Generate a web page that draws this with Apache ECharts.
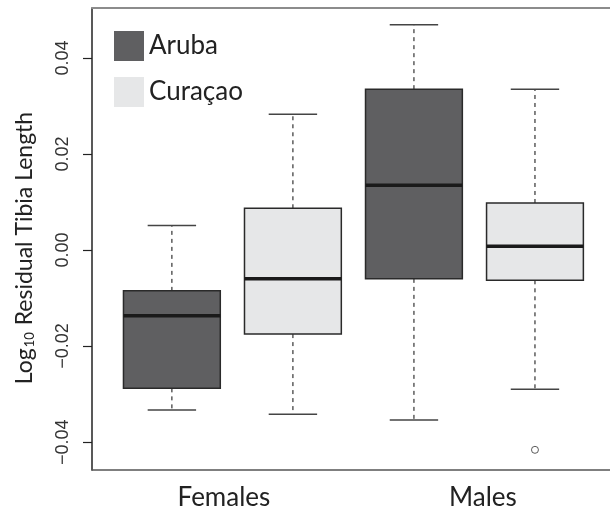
<!DOCTYPE html>
<html>
<head>
<meta charset="utf-8">
<script src="https://cdn.jsdelivr.net/npm/echarts@6/dist/echarts.min.js"></script>
<style>
html,body{margin:0;padding:0;background:#fff;}
#chart{width:610px;height:512px;}
</style>
</head>
<body>
<div id="chart"></div>
<script>
// ---- data ----
const groupNames = ['Females', 'Males'];
const groupLabelPos = [1.43, 3.57];          // x positions of the group labels
const islands = ['Aruba', 'Curaçao'];
const arubaPos = [1, 3];
const curacaoPos = [2, 4];
// [min, Q1, median, Q3, max]
const arubaStats = [
  [-0.0333, -0.0288, -0.0137, -0.0085, 0.0051],
  [-0.0354, -0.0060, 0.0135, 0.0335, 0.0469]
];
const curacaoStats = [
  [-0.0342, -0.0175, -0.0060, 0.0087, 0.0283],
  [-0.0290, -0.0063, 0.0008, 0.0098, 0.0335]
];
const outliers = [[4, -0.0416]];
const yTicks = [-0.04, -0.02, 0, 0.02, 0.04];

const BOX_WEX = 0.8;

function buildData(pos, stats) {
  return pos.map((p, i) => [p].concat(stats[i]));
}

function renderBox(params, api) {
  const x = api.value(0);
  const lo = api.coord([x, api.value(1)]);
  const q1 = api.coord([x, api.value(2)]);
  const med = api.coord([x, api.value(3)]);
  const q3 = api.coord([x, api.value(4)]);
  const hi = api.coord([x, api.value(5)]);
  const bw = api.size([BOX_WEX, 0])[0];
  const cw = bw * 0.5;
  const cx = lo[0];
  const whiskerStyle = { stroke: '#333', lineWidth: 1.2, lineDash: [4, 4] };
  const capStyle = { stroke: '#444', lineWidth: 1.5 };
  return {
    type: 'group',
    children: [
      { type: 'line', shape: { x1: cx, y1: q3[1], x2: cx, y2: hi[1] }, style: whiskerStyle },
      { type: 'line', shape: { x1: cx, y1: q1[1], x2: cx, y2: lo[1] }, style: whiskerStyle },
      { type: 'line', shape: { x1: cx - cw / 2, y1: hi[1], x2: cx + cw / 2, y2: hi[1] }, style: capStyle },
      { type: 'line', shape: { x1: cx - cw / 2, y1: lo[1], x2: cx + cw / 2, y2: lo[1] }, style: capStyle },
      { type: 'rect', shape: { x: cx - bw / 2, y: q3[1], width: bw, height: q1[1] - q3[1] },
        style: { fill: api.visual('color'), stroke: '#2a2a2a', lineWidth: 1.5 } },
      { type: 'line', shape: { x1: cx - bw / 2, y1: med[1], x2: cx + bw / 2, y2: med[1] },
        style: { stroke: '#1a1a1a', lineWidth: 3.5 } }
    ]
  };
}

const chart = echarts.init(document.getElementById('chart'), null, { renderer: 'canvas' });

const option = {
  backgroundColor: '#fff',
  animation: false,
  grid: { left: 92, right: 0, top: 8, bottom: 42, outerBoundsMode: 'none' },
  legend: {
    orient: 'vertical',
    left: 109,
    top: 26,
    itemWidth: 30,
    itemHeight: 30,
    itemGap: 16,
    icon: 'rect',
    itemStyle: { borderWidth: 0 },
    textStyle: { fontFamily: 'Lato', fontSize: 26, color: '#222' },
    data: [
      { name: islands[0], textStyle: { padding: [0, 0, 10, 0] } },
      { name: islands[1] }
    ]
  },
  xAxis: [
    {
      type: 'value',
      position: 'bottom',
      min: 0.34,
      max: 4.62,
      splitLine: { show: false },
      axisTick: { show: false },
      axisLine: { show: true, onZero: false, lineStyle: { color: '#555', width: 1.5 } },
      axisLabel: {
        customValues: groupLabelPos,
        margin: 15,
        fontFamily: 'Lato',
        fontSize: 26,
        color: '#222',
        formatter: function (v) {
          let best = 0;
          groupLabelPos.forEach((p, i) => { if (Math.abs(p - v) < Math.abs(groupLabelPos[best] - v)) best = i; });
          return groupNames[best];
        }
      }
    },
    {
      type: 'value',
      position: 'top',
      min: 0.34,
      max: 4.62,
      splitLine: { show: false },
      axisTick: { show: false },
      axisLabel: { show: false },
      axisLine: { show: true, onZero: false, lineStyle: { color: '#8c8c8c', width: 2 } }
    }
  ],
  yAxis: {
    type: 'value',
    min: -0.0458,
    max: 0.0504,
    splitLine: { show: false },
    axisLine: { show: true, onZero: false, lineStyle: { color: '#222', width: 1.5 } },
    axisTick: { show: true, customValues: yTicks, length: 9, lineStyle: { color: '#222', width: 1.2 } },
    axisLabel: {
      customValues: yTicks,
      rotate: 90,
      margin: 20,
      fontFamily: 'Liberation Sans',
      fontSize: 18,
      color: '#333',
      formatter: function (v) { return v.toFixed(2).replace('-', '\u2212'); }
    },
    name: '{n|Log}{s|10}{n| Residual Tibia Length}',
    nameLocation: 'middle',
    nameGap: 56,
    nameTextStyle: {
      padding: [0, 18, 0, 0],
      rich: {
        n: { fontFamily: 'Lato', fontSize: 23, color: '#222' },
        s: { fontFamily: 'Lato', fontSize: 13, color: '#222', verticalAlign: 'bottom', padding: [0, 1, 0, 1] }
      }
    }
  },
  series: [
    {
      name: islands[0],
      type: 'custom',
      renderItem: renderBox,
      itemStyle: { color: '#5f5f61' },
      encode: { x: 0, y: [1, 2, 3, 4, 5] },
      data: buildData(arubaPos, arubaStats),
      z: 2
    },
    {
      name: islands[1],
      type: 'custom',
      renderItem: renderBox,
      itemStyle: { color: '#e6e7e8' },
      encode: { x: 0, y: [1, 2, 3, 4, 5] },
      data: buildData(curacaoPos, curacaoStats),
      z: 2
    },
    {
      name: 'outliers',
      type: 'scatter',
      symbol: 'circle',
      symbolSize: 7,
      itemStyle: { color: '#fff', borderColor: '#333', borderWidth: 1 },
      data: outliers,
      z: 3
    }
  ]
};

chart.setOption(option);
</script>
</body>
</html>
